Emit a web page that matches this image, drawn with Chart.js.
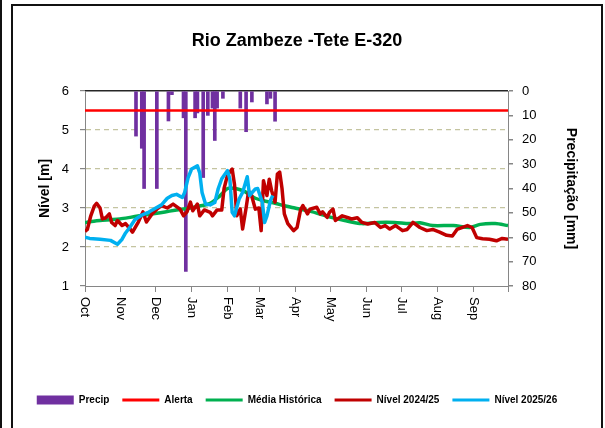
<!DOCTYPE html>
<html>
<head>
<meta charset="utf-8">
<script src="https://cdn.jsdelivr.net/npm/chart.js@4/dist/chart.umd.min.js"></script>
<style>
  html, body { margin: 0; padding: 0; background: #fff; overflow: hidden; width: 605px; height: 428px; }
  .edge { position: absolute; left: 0; top: 0; width: 2px; height: 428px; background: #111; }
  .frame { position: absolute; left: 11px; top: 4px; width: 588px; height: 500px; border: 2px solid #111; }
  #c { position: absolute; left: 0; top: 0; }
</style>
</head>
<body>
<div class="edge"></div>
<div class="frame"></div>
<canvas id="c" width="605" height="428"></canvas>
<script>
// ---- Data (day index counted from 1 October) ----
const meses = ['Oct','Nov','Dec','Jan','Feb','Mar','Apr','May','Jun','Jul','Aug','Sep'];
const inicioMes = [0,31,61,92,123,151,182,212,243,273,304,335,365];

const alerta = 5.5;

const precipDia = [44,49,51,62,72,75,85,87,95,97,102,106,110,112,114,119,134,139,144,157,160,164];
const precipMm  = [18.5,23.5,40,40,12.3,1.5,11,74,11,9,35.5,10,7,20.3,7,3,7,16.7,4.5,5.3,3,12.4];

const mediaDia   = [0,4,13,22,30,39,47,56,65,73,82,91,99,108,116,123,130,138,147,155,164,173,181,194,210,224,239,253,267,280,289,300,318,332,341,354,365];
const mediaNivel = [2.62,2.65,2.68,2.7,2.72,2.76,2.8,2.84,2.88,2.92,2.96,3.0,3.05,3.12,3.3,3.5,3.5,3.42,3.25,3.18,3.12,3.05,3.0,2.92,2.78,2.68,2.6,2.63,2.63,2.6,2.62,2.55,2.55,2.5,2.58,2.6,2.55];

const nivel2425Dia = [0,2,5,8,10,13,15,18,21,23,26,28,32,35,39,41,46,50,53,58,62,66,71,76,82,85,88,91,93,97,99,103,108,110,114,118,120,123,127,129,131,134,136,139,141,143,147,150,152,154,157,159,161,164,166,168,170,172,175,180,183,186,188,192,194,200,203,205,209,211,214,216,218,222,227,230,235,239,244,250,255,259,263,268,274,278,283,289,295,300,306,312,317,321,330,334,338,343,349,355,360,365];
const nivel2425    = [2.4,2.45,2.8,3.05,3.12,3.0,2.72,2.75,2.85,2.63,2.55,2.68,2.55,2.6,2.46,2.38,2.64,2.9,2.64,2.85,2.97,3.06,3.0,3.1,2.97,2.8,2.9,3.15,2.93,3.1,2.8,2.95,2.89,2.8,2.95,2.95,3.5,3.85,4.0,3.6,2.8,2.97,2.46,3.0,3.4,3.4,2.97,3.0,2.42,3.7,3.32,3.74,3.45,3.15,3.87,3.92,3.5,2.85,2.6,2.42,2.5,2.95,3.06,2.85,2.97,3.02,2.85,2.9,2.76,2.89,2.97,2.68,2.72,2.8,2.75,2.72,2.75,2.63,2.59,2.63,2.5,2.55,2.46,2.55,2.42,2.45,2.63,2.5,2.42,2.45,2.38,2.3,2.28,2.45,2.55,2.5,2.24,2.21,2.2,2.16,2.22,2.2];

const nivel2526Dia = [0,4,13,22,28,32,35,39,43,49,54,60,66,71,75,79,84,86,89,92,97,99,101,104,108,112,115,118,123,125,127,129,133,136,140,142,147,149,153,155,157,160,162];
const nivel2526    = [2.25,2.22,2.2,2.17,2.07,2.2,2.36,2.52,2.7,2.82,2.88,2.98,3.08,3.25,3.32,3.35,3.27,3.4,3.78,4.0,4.08,3.9,3.4,3.1,3.08,3.14,3.5,3.75,3.96,3.74,2.89,2.8,3.23,3.4,3.8,3.32,3.49,3.5,3.15,2.63,2.8,3.19,3.32];

// ---- Build datasets ----
const pts = (xs, ys) => xs.map((x, i) => ({ x: x, y: ys[i] }));

const fontFam = "'Liberation Sans', Arial, sans-serif";

const xLabelsPlugin = {
  id: 'xLabels',
  afterDraw(chart) {
    const sx = chart.scales.x;
    const ctx = chart.ctx;
    ctx.save();
    ctx.font = '13px ' + fontFam;
    ctx.fillStyle = '#000';
    ctx.textAlign = 'left';
    ctx.textBaseline = 'middle';
    meses.forEach((m, i) => {
      const px = sx.getPixelForValue(inicioMes[i]);
      ctx.save();
      ctx.translate(px, sx.top + 11);
      ctx.rotate(Math.PI / 2);
      ctx.fillText(m, 0, 0);
      ctx.restore();
    });
    ctx.restore();
  }
};

const gridCol = 'rgb(196,196,160)';
const none = 'rgba(0,0,0,0)';

new Chart(document.getElementById('c'), {
  type: 'line',
  data: {
    datasets: [
      { type: 'bar', label: 'Precip', data: pts(precipDia, precipMm), yAxisID: 'yP', xAxisID: 'x',
        backgroundColor: '#7030A0', borderWidth: 0, barThickness: 3, order: 5 },
      { label: 'Alerta', data: pts([0, 365], [alerta, alerta]), yAxisID: 'y', xAxisID: 'x',
        borderColor: '#FF0000', borderWidth: 2.5, pointRadius: 0, tension: 0, order: 4 },
      { label: 'Média Histórica', data: pts(mediaDia, mediaNivel), yAxisID: 'y', xAxisID: 'x',
        borderColor: '#00B050', borderWidth: 3.5, pointRadius: 0, tension: 0.3, order: 3, borderJoinStyle: 'round' },
      { label: 'Nível 2024/25', data: pts(nivel2425Dia, nivel2425), yAxisID: 'y', xAxisID: 'x',
        borderColor: '#C00000', borderWidth: 3.5, pointRadius: 0, tension: 0, order: 2, borderJoinStyle: 'round' },
      { label: 'Nível 2025/26', data: pts(nivel2526Dia, nivel2526), yAxisID: 'y', xAxisID: 'x',
        borderColor: '#00B0F0', borderWidth: 3.5, pointRadius: 0, tension: 0, order: 1, borderJoinStyle: 'round' }
    ]
  },
  options: {
    responsive: false,
    animation: false,
    devicePixelRatio: 1,
    layout: { padding: { left: 0, right: 11, top: 0, bottom: 13 } },
    plugins: {
      tooltip: { enabled: false },
      title: {
        display: true,
        text: 'Rio Zambeze -Tete E-320',
        color: '#000',
        font: { family: fontFam, size: 18, weight: 'bold' },
        padding: { top: 30, bottom: 39.4 }
      },
      legend: {
        position: 'bottom',
        labels: {
          color: '#000',
          font: { family: fontFam, size: 10, weight: 'bold' },
          usePointStyle: true,
          pointStyleWidth: 37,
          boxWidth: 37,
          boxHeight: 9,
          padding: 13,
          generateLabels: (chart) => chart.data.datasets.map((ds, i) => {
            const isBar = ds.type === 'bar';
            const col = isBar ? ds.backgroundColor : ds.borderColor;
            return {
              text: ds.label, fillStyle: col, strokeStyle: col,
              lineWidth: isBar ? 0 : 3, pointStyle: isBar ? 'rect' : 'line',
              hidden: false, datasetIndex: i, fontColor: '#000'
            };
          })
        }
      }
    },
    scales: {
      x: {
        type: 'linear', position: 'bottom', min: 0, max: 365, offset: false,
        afterBuildTicks: (s) => { s.ticks = inicioMes.map(v => ({ value: v })); },
        afterFit: (s) => { s.height = 96; },
        ticks: { display: false },
        grid: { drawOnChartArea: false, offset: false, drawTicks: true, tickLength: 6, tickColor: '#868686' },
        border: { color: '#868686', width: 1 }
      },
      y: {
        type: 'linear', position: 'left', min: 1, max: 6,
        afterFit: (s) => { s.width = 85; },
        ticks: { stepSize: 1, color: '#000', font: { family: fontFam, size: 13 }, padding: 11 },
        grid: {
          display: true, drawOnChartArea: true,
          drawTicks: true, tickLength: 5, tickColor: '#868686', lineWidth: 1.2,
          color: [none, gridCol, gridCol, gridCol, gridCol, none]
        },
        border: { color: '#868686', width: 1, dash: [5, 4] },
        title: { display: true, text: 'Nível [m]', color: '#000',
                 font: { family: fontFam, size: 14, weight: 'bold' }, padding: { top: 36.6, bottom: 0 } }
      },
      yP: {
        type: 'linear', position: 'right', min: 0, max: 80, reverse: true,
        afterFit: (s) => { s.width = 86; },
        ticks: { stepSize: 10, color: '#000', font: { family: fontFam, size: 13 }, padding: 9 },
        grid: {
          display: true, drawOnChartArea: true, drawTicks: true, tickLength: 5, tickColor: '#868686',
          lineWidth: 1.5,
          // ticks are stored in reversed order (80 ... 0): the last one is the top edge
          color: [none, none, none, none, none, none, none, none, '#262626']
        },
        border: { color: '#868686', width: 1 },
        title: { display: true, text: 'Precipitação [mm]', color: '#000',
                 font: { family: fontFam, size: 14, weight: 'bold' }, padding: { top: 14.6, bottom: 0 } }
      }
    }
  },
  plugins: [xLabelsPlugin]
});
</script>
</body>
</html>
